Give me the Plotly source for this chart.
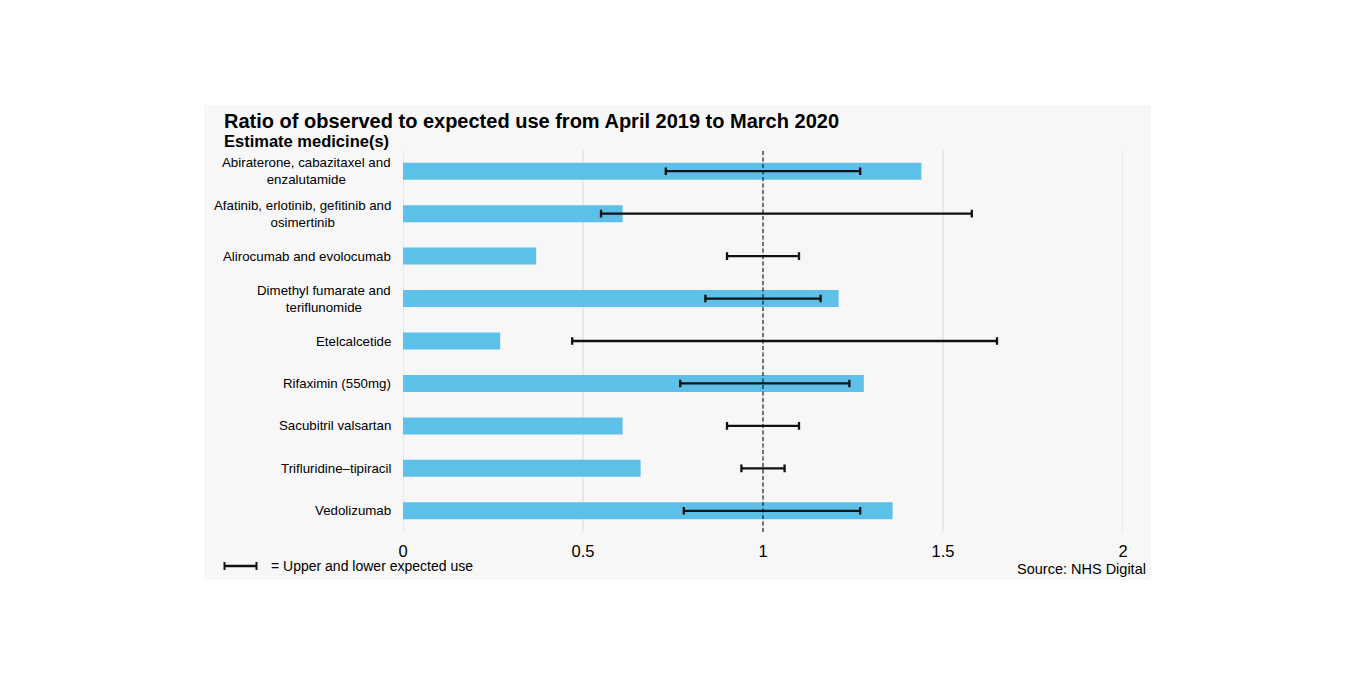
import plotly.graph_objects as go

medicines = [
    "Abiraterone, cabazitaxel and<br>enzalutamide",
    "Afatinib, erlotinib, gefitinib and<br>osimertinib",
    "Alirocumab and evolocumab",
    "Dimethyl fumarate and<br>teriflunomide",
    "Etelcalcetide",
    "Rifaximin (550mg)",
    "Sacubitril valsartan",
    "Trifluridine\u2013tipiracil",
    "Vedolizumab",
]
ratio = [1.44, 0.61, 0.37, 1.21, 0.27, 1.28, 0.61, 0.66, 1.36]
lower = [0.73, 0.55, 0.90, 0.84, 0.47, 0.77, 0.90, 0.94, 0.78]
upper = [1.27, 1.58, 1.10, 1.16, 1.65, 1.24, 1.10, 1.06, 1.27]
x_ticks = [0, 0.5, 1, 1.5, 2]
x_tick_labels = ["0", "0.5", "1", "1.5", "2"]

FONT = "Liberation Sans, Arial, sans-serif"
W, H = 1350, 687
L, R, T, B = 403, 1123, 150, 532
pw, ph = R - L, B - T


def px(x):
    return (x - L) / pw


def py(y):
    return (B - y) / ph


ypos = list(range(len(medicines)))

fig = go.Figure()
fig.add_trace(go.Bar(
    x=ratio, y=ypos, orientation="h", width=0.4,
    marker=dict(color="#5dc0e8", line=dict(width=0)),
    hoverinfo="x",
))
fig.add_trace(go.Scatter(
    x=lower, y=ypos, mode="markers",
    marker=dict(size=1, color="rgba(0,0,0,0)"),
    error_x=dict(type="data", symmetric=False,
                 array=[u - l for u, l in zip(upper, lower)],
                 arrayminus=[0] * len(lower),
                 color="#111111", thickness=2.3, width=3.8),
    hoverinfo="skip",
))

shapes = [
    # background panel
    dict(type="rect", xref="paper", yref="paper",
         x0=px(204), x1=px(1151), y0=py(580), y1=py(105),
         fillcolor="#f7f7f7", line=dict(width=0), layer="below"),
]
# vertical gridlines
for t in x_ticks:
    shapes.append(dict(type="line", xref="x", yref="paper", x0=t, x1=t, y0=0, y1=1,
                       line=dict(color="#d9d9d9", width=1), layer="below"))
shapes += [
    # reference line at 1
    dict(type="line", xref="x", yref="paper", x0=1, x1=1, y0=0, y1=1,
         line=dict(color="#000000", width=1, dash="4px,2.5px")),
    # legend symbol
    dict(type="line", xref="paper", yref="paper",
         x0=px(224), x1=px(257), y0=py(566), y1=py(566),
         line=dict(color="#111111", width=2.3)),
    dict(type="line", xref="paper", yref="paper",
         x0=px(224.5), x1=px(224.5), y0=py(562), y1=py(570),
         line=dict(color="#111111", width=2)),
    dict(type="line", xref="paper", yref="paper",
         x0=px(256.5), x1=px(256.5), y0=py(562), y1=py(570),
         line=dict(color="#111111", width=2)),
]

annotations = [
    dict(text="<b>Ratio of observed to expected use from April 2019 to March 2020</b>",
         xref="paper", yref="paper", x=px(222), y=py(121),
         xanchor="left", yanchor="middle", showarrow=False,
         font=dict(size=20, color="#000000", family=FONT)),
    dict(text="<b>Estimate medicine(s)</b>",
         xref="paper", yref="paper", x=px(222), y=py(141),
         xanchor="left", yanchor="middle", showarrow=False,
         font=dict(size=16.5, color="#000000", family=FONT)),
    dict(text="= Upper and lower expected use",
         xref="paper", yref="paper", x=px(269), y=py(566),
         xanchor="left", yanchor="middle", showarrow=False,
         font=dict(size=14, color="#000000", family=FONT)),
    dict(text="Source: NHS Digital",
         xref="paper", yref="paper", x=px(1148), y=py(569),
         xanchor="right", yanchor="middle", showarrow=False,
         font=dict(size=14.5, color="#000000", family=FONT)),
]
for i, name in enumerate(medicines):
    annotations.append(dict(
        text=name, xref="paper", yref="y", x=px(393), y=i,
        xanchor="right", yanchor="middle", align="center", showarrow=False,
        font=dict(size=13.3, color="#000000", family=FONT),
    ))

fig.update_layout(
    width=W, height=H,
    margin=dict(l=L, r=W - R, t=T, b=H - B, pad=0),
    paper_bgcolor="#ffffff", plot_bgcolor="rgba(0,0,0,0)",
    showlegend=False, bargap=0.6,
    font=dict(family=FONT, color="#000000"),
    xaxis=dict(range=[0, 2], tickvals=x_ticks, ticktext=x_tick_labels,
               showgrid=False, zeroline=False, showline=False, ticks="",
               ticklabelstandoff=7,
               tickfont=dict(size=16.5, color="#000000", family=FONT)),
    yaxis=dict(range=[len(medicines) - 0.5, -0.5], showticklabels=False,
               showgrid=False, zeroline=False, showline=False, ticks=""),
    shapes=shapes, annotations=annotations,
)

fig.write_html("out.html")
